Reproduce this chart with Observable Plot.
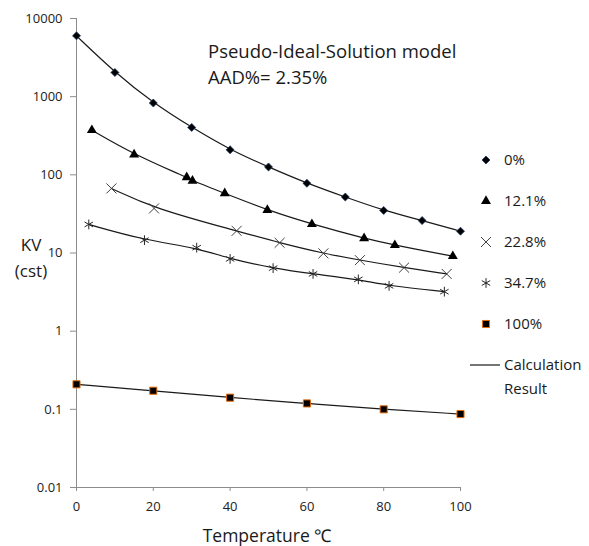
<!DOCTYPE html>
<html>
<head>
<meta charset="utf-8">
<script src="https://cdn.jsdelivr.net/npm/d3@7"></script>
<script src="https://cdn.jsdelivr.net/npm/@observablehq/plot@0.6"></script>
<style>
  html, body { margin: 0; padding: 0; background: #fff; }
  #chart { width: 589px; height: 546px; }
  svg { font-family: "Open Sans", "Noto Sans", sans-serif; }
</style>
</head>
<body>
<div id="chart"></div>
<script>
// ---- data ----
const seriesNames = ["0%", "12.1%", "22.8%", "34.7%", "100%"];

const temp0   = [0, 10, 20, 30, 40, 50, 60, 70, 80, 90, 100];
const kv0     = [6000, 2040, 830, 404, 209, 126, 78, 52, 35, 26, 19];

const temp121 = [4, 15, 28.7, 30.2, 38.6, 49.7, 61.3, 74.9, 82.9, 98];
const kv121   = [373, 182, 93, 84, 58, 35.4, 23.4, 15.4, 12.6, 9.1];

const temp228 = [9.1, 20.2, 41.7, 52.9, 64.3, 73.8, 85.3, 96.4];
const kv228   = [67, 37.2, 19.2, 13.5, 9.9, 8.1, 6.5, 5.4];

const temp347 = [3.2, 17.7, 31.3, 40, 51.2, 61.6, 73.4, 81.4, 95.8];
const kv347   = [23.2, 14.6, 11.7, 8.4, 6.4, 5.4, 4.6, 3.8, 3.2];

const temp100 = [0, 20, 40, 60, 80, 100];
const kv100   = [0.209, 0.173, 0.141, 0.119, 0.100, 0.087];

const xTicks = [0, 20, 40, 60, 80, 100];
const yTicks = [0.01, 0.1, 1, 10, 100, 1000, 10000];

const titleLines = ["Pseudo-Ideal-Solution model", "AAD%= 2.35%"];
const lineLegend = ["Calculation", "Result"];

// ---- build table ----
const temps = [temp0, temp121, temp228, temp347, temp100];
const kvs = [kv0, kv121, kv228, kv347, kv100];
const rows = [];
seriesNames.forEach((s, i) => temps[i].forEach((t, j) => rows.push({series: s, t, kv: kvs[i][j]})));
const bySeries = s => rows.filter(r => r.series === s);

const styles = {
  "0%":    {symbol: "diamond2", fill: "#000", stroke: "#1f3864", r: 3.6, sw: 0.8},
  "12.1%": {symbol: "triangle", fill: "#000", stroke: "none", r: 3.7, sw: 0},
  "22.8%": {symbol: "times", fill: "none", stroke: "#404040", r: 4.6, sw: 1},
  "34.7%": {symbol: "asterisk", fill: "none", stroke: "#262626", r: 4.6, sw: 1},
  "100%":  {symbol: "square", fill: "#000", stroke: "#e46c0a", r: 4.0, sw: 1}
};

const W = 589, H = 546;
const axisColor = "#8c8c8c";
const textColor = "#1a1a1a";

const marks = [
  Plot.ruleX([0], {stroke: axisColor, strokeWidth: 1}),
  Plot.ruleY([0.01], {stroke: axisColor, strokeWidth: 1}),
  Plot.axisY({ticks: yTicks, tickFormat: d => String(d), tickSize: 6, tickPadding: 8,
              stroke: axisColor, fill: "#222", fontSize: 13, label: null}),
  Plot.axisX({ticks: xTicks, tickFormat: d => String(d), tickSize: 4, tickPadding: 10,
              stroke: axisColor, fill: "#222", fontSize: 13, label: null}),
];
seriesNames.forEach(s => {
  marks.push(Plot.line(bySeries(s), {x: "t", y: "kv", curve: "basis", stroke: "#1a1a1a", strokeWidth: 1.2}));
});
seriesNames.forEach(s => {
  const st = styles[s];
  marks.push(Plot.dot(bySeries(s), {x: "t", y: "kv", symbol: () => st.symbol, r: st.r,
    fill: st.fill, stroke: st.stroke, strokeWidth: st.sw}));
});

const chart = Plot.plot({
  width: W, height: H,
  marginLeft: 76, marginRight: 129, marginTop: 18, marginBottom: 59,
  x: {domain: [0, 100]},
  y: {type: "log", domain: [0.01, 10000]},
  style: {fontFamily: "'Open Sans', sans-serif", background: "#fff"},
  marks
});

const svg = d3.select(chart);
const addText = (x, y, txt, size, anchor) => svg.append("text")
  .attr("x", x).attr("y", y).attr("text-anchor", anchor).attr("font-size", size)
  .attr("fill", textColor).text(txt);

// title
addText(208, 58, titleLines[0], 18.5, "start");
addText(208, 84, titleLines[1], 18.5, "start");

// axis titles
addText(31, 251, "KV", 17, "middle");
addText(31, 277, "(cst)", 17, "middle");
addText(267, 542, "Temperature \u2103", 17.5, "middle");

// legend
const symMap = {diamond2: d3.symbolDiamond2, triangle: d3.symbolTriangle, times: d3.symbolTimes,
                asterisk: d3.symbolAsterisk, square: d3.symbolSquare};
const lg = svg.append("g");
seriesNames.forEach((s, i) => {
  const st = styles[s];
  const y = 160 + i * 41;
  lg.append("path").attr("transform", `translate(486,${y})`)
    .attr("d", d3.symbol(symMap[st.symbol], st.r * st.r * Math.PI)())
    .attr("fill", st.fill).attr("stroke", st.stroke).attr("stroke-width", st.sw);
  lg.append("text").attr("x", 504).attr("y", y).attr("dy", "0.35em").attr("text-anchor", "start")
    .attr("font-size", 15).attr("fill", textColor).text(s);
});
lg.append("line").attr("x1", 470).attr("x2", 500).attr("y1", 365).attr("y2", 365)
  .attr("stroke", "#1a1a1a").attr("stroke-width", 1.2);
lineLegend.forEach((t, i) => {
  lg.append("text").attr("x", 504).attr("y", 365 + i * 24).attr("dy", "0.35em").attr("text-anchor", "start")
    .attr("font-size", 15).attr("fill", textColor).text(t);
});

document.getElementById("chart").appendChild(chart);
</script>
</body>
</html>
